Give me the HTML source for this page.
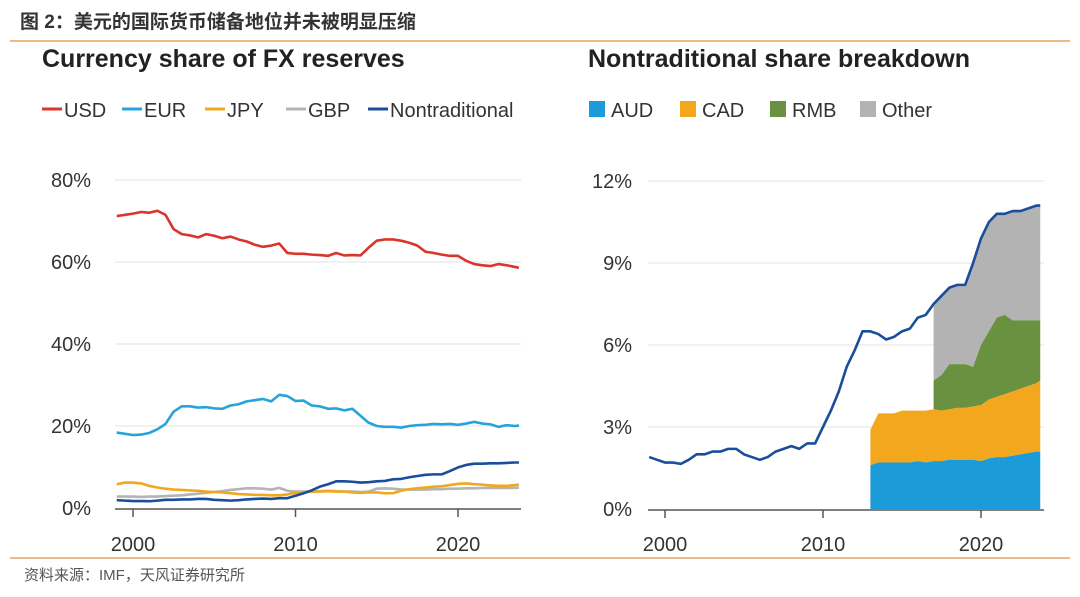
<!DOCTYPE html>
<html><head><meta charset="utf-8"><style>
body{margin:0;background:#fff;width:1080px;height:597px;overflow:hidden;font-family:"Liberation Sans","Noto Sans CJK SC",sans-serif}
svg{position:absolute;left:0;top:0}
</style></head><body>
<svg id="c" width="1080" height="597" xmlns="http://www.w3.org/2000/svg">
<text x="20" y="28" font-size="19" font-weight="bold" fill="#333" font-family="Liberation Sans,Noto Sans CJK SC,sans-serif">图 2：美元的国际货币储备地位并未被明显压缩</text>
<line x1="10" y1="41" x2="1070" y2="41" stroke="#e8a060" stroke-width="1.5"/>
<line x1="10" y1="558" x2="1070" y2="558" stroke="#e8a060" stroke-width="1.5"/>
<text x="24" y="580" font-size="15" fill="#555" font-family="Liberation Sans,Noto Sans CJK SC,sans-serif">资料来源：IMF，天风证券研究所</text>
<text x="42" y="67" font-size="25" font-weight="bold" fill="#222">Currency share of FX reserves</text>
<text x="588" y="67" font-size="25" font-weight="bold" fill="#222">Nontraditional share breakdown</text>
<g id="leg" font-size="20" fill="#333"></g>
<g id="L"></g><g id="R"></g>
</svg>
<script>
const years=[];for(let i=0;i<50;i++)years.push(1999+i*0.5);years.push(2023.75);
const usd=[71.2,71.5,71.8,72.2,72,72.5,71.5,68,66.8,66.5,66,66.8,66.4,65.8,66.2,65.5,65,64.2,63.7,64,64.5,62.2,62,62,61.8,61.7,61.5,62.2,61.6,61.7,61.6,63.5,65.2,65.5,65.5,65.2,64.7,64,62.5,62.2,61.8,61.5,61.5,60.3,59.5,59.2,59,59.5,59.2,58.8,58.6];
const eur=[18.4,18.1,17.8,17.9,18.3,19.2,20.5,23.5,24.8,24.8,24.5,24.6,24.3,24.2,25,25.3,26,26.3,26.6,26,27.6,27.3,26.1,26.2,25,24.8,24.2,24.3,23.8,24.2,22.5,20.8,20,19.8,19.8,19.6,20,20.2,20.3,20.5,20.4,20.5,20.3,20.6,21,20.6,20.4,19.8,20.2,20,20.1];
const jpy=[5.8,6.2,6.2,6.0,5.4,5.0,4.7,4.5,4.4,4.3,4.2,4.0,3.9,3.8,3.6,3.4,3.3,3.2,3.2,3.1,3.1,3.3,3.7,3.8,4.0,4.0,4.1,4.0,4.0,3.8,3.7,3.8,3.8,3.6,3.6,4.2,4.6,4.8,5.0,5.2,5.3,5.6,5.9,6.0,5.8,5.7,5.5,5.4,5.4,5.6,5.7];
const gbp=[2.8,2.8,2.8,2.7,2.8,2.8,2.9,3.0,3.1,3.3,3.5,3.7,3.9,4.1,4.4,4.6,4.8,4.8,4.7,4.5,4.9,4.2,4.0,4.0,4.0,4.1,4.2,4.1,4.0,4.0,3.9,4.0,4.7,4.8,4.7,4.5,4.5,4.5,4.5,4.6,4.6,4.7,4.7,4.8,4.8,4.9,4.9,4.9,4.9,4.9,5.0];
const nontrad=[1.9,1.8,1.7,1.7,1.65,1.8,2.0,2.0,2.1,2.1,2.2,2.2,2.0,1.9,1.8,1.9,2.1,2.2,2.3,2.2,2.4,2.4,3.0,3.6,4.3,5.2,5.8,6.5,6.5,6.4,6.2,6.3,6.5,6.6,7.0,7.1,7.5,7.8,8.1,8.2,8.2,9.0,9.9,10.5,10.8,10.8,10.9,10.9,11.0,11.1,11.1];
const sYears=[];for(let i=0;i<22;i++)sYears.push(2013+i*0.5);sYears.push(2023.75);
const aud=[1.6,1.7,1.7,1.7,1.7,1.7,1.75,1.7,1.75,1.75,1.8,1.8,1.8,1.8,1.75,1.85,1.9,1.9,1.95,2.0,2.05,2.1,2.1];
const audCad=[2.9,3.5,3.5,3.5,3.6,3.6,3.6,3.6,3.65,3.6,3.65,3.7,3.7,3.75,3.8,4.0,4.1,4.2,4.3,4.4,4.5,4.6,4.7];
const rmbTop=[null,null,null,null,null,null,null,null,4.7,4.9,5.3,5.3,5.3,5.2,6.0,6.5,7.0,7.1,6.9,6.9,6.9,6.9,6.9];
const xTicks=[2000,2010,2020];
const lTicks=[0,20,40,60,80];
const rTicks=[0,3,6,9,12];
const NS="http://www.w3.org/2000/svg";
function mk(p,t,a){const e=document.createElementNS(NS,t);for(const k in a)e.setAttribute(k,a[k]);p.appendChild(e);return e;}
const L=document.getElementById('L'),R=document.getElementById('R'),leg=document.getElementById('leg');
const lx=y=>133+(y-2000)*16.25, ly=v=>508-v*4.1;
const rx=y=>665+(y-2000)*15.8, ry=v=>509-v*27.333;
lTicks.forEach(t=>{if(t>0){const g=mk(L,'line',{x1:115,x2:521,y1:ly(t),y2:ly(t),stroke:'#e3e3e3','stroke-width':1});}
const tx=mk(L,'text',{x:91,y:ly(t)+7,'text-anchor':'end','font-size':20,fill:'#333'});tx.textContent=t+'%';});
rTicks.forEach(t=>{if(t>0){const g=mk(R,'line',{x1:648,x2:1044,y1:ry(t),y2:ry(t),stroke:'#e3e3e3','stroke-width':1});}
const tx=mk(R,'text',{x:632,y:ry(t)+7,'text-anchor':'end','font-size':20,fill:'#333'});tx.textContent=t+'%';});
function area(top,bot,col,name){let up=[],dn=[];sYears.forEach((y,i)=>{if(top[i]==null)return;up.push(rx(y)+','+ry(top[i]));dn.unshift(rx(y)+','+ry(bot?bot[i]:0));});
const p=mk(R,'polygon',{points:up.concat(dn).join(' '),fill:col});}
const otherTop=sYears.map((y,i)=>rmbTop[i]==null?null:nontrad[years.indexOf(y)]);
area(otherTop,rmbTop,'#b3b3b3','other-area');
area(rmbTop,audCad,'#6a9140','rmb-area');
area(audCad,aud,'#f2a71d','cad-area');
area(aud,null,'#1b9bd7','aud-area');
function line(g,fx,fy,vals,col,name){const p=mk(g,'polyline',{points:years.map((y,i)=>fx(y)+','+fy(vals[i])).join(' '),fill:'none',stroke:col,'stroke-width':2.6,'stroke-linejoin':'round'});}
line(L,lx,ly,gbp,'#b4b4b4','gbp-line');
line(L,lx,ly,jpy,'#f0a81e','jpy-line');
line(L,lx,ly,nontrad,'#1a4e9a','nontraditional-line');
line(L,lx,ly,eur,'#25a4dc','eur-line');
line(L,lx,ly,usd,'#d9352b','usd-line');
line(R,rx,ry,nontrad,'#1a4e9a','right-nontraditional-line');
[[L,lx,115,521,509,'left'],[R,rx,648,1044,510,'right']].forEach(([g,fx,a,b,y,n])=>{const ax=mk(g,'line',{x1:a,x2:b,y1:y,y2:y,stroke:'#555','stroke-width':1.5});
xTicks.forEach(t=>{const tk=mk(g,'line',{x1:fx(t),x2:fx(t),y1:y,y2:y+8,stroke:'#555','stroke-width':1.5});
const tx=mk(g,'text',{x:fx(t),y:551,'text-anchor':'middle','font-size':20,fill:'#333'});tx.textContent=t;});});
const lnames=['USD','EUR','JPY','GBP','Nontraditional'],lcols=['#d9352b','#25a4dc','#f0a81e','#b4b4b4','#1a4e9a'],lxs=[42,122,205,286,368];
lnames.forEach((n,i)=>{const s=mk(leg,'line',{x1:lxs[i],x2:lxs[i]+20,y1:109,y2:109,stroke:lcols[i],'stroke-width':3});
const t=mk(leg,'text',{x:lxs[i]+22,y:117});t.textContent=n;});
const rnames=['AUD','CAD','RMB','Other'],rcols=['#1b9bd7','#f2a71d','#6a9140','#b3b3b3'],rxs=[589,680,770,860];
rnames.forEach((n,i)=>{const s=mk(leg,'rect',{x:rxs[i],y:101,width:16,height:16,fill:rcols[i]});
const t=mk(leg,'text',{x:rxs[i]+22,y:117});t.textContent=n;});
</script>
</body></html>
